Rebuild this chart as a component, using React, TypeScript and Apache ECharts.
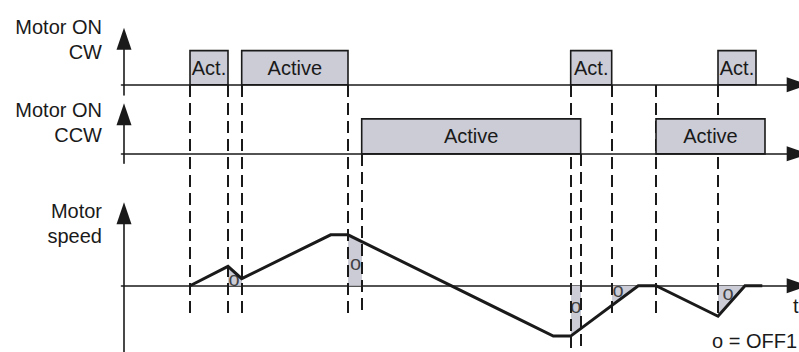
import React, { useEffect, useRef } from 'react';
import * as echarts from 'echarts';

// ---- data (time in arbitrary units, speed in % of max) ----
const trackTitles = ['Motor ON\nCW', 'Motor ON\nCCW', 'Motor\nspeed'];

const cwPulseStart = [66, 117.7, 446.7, 594];
const cwPulseEnd = [104, 224, 487.7, 632];
const cwPulseLabel = ['Act.', 'Active', 'Act.', 'Act.'];

const ccwPulseStart = [237.7, 532];
const ccwPulseEnd = [456.7, 641];
const ccwPulseLabel = ['Active', 'Active'];

const speedTime = [66, 104, 117.7, 206.7, 224, 429.3, 446.7, 514.3, 532, 594, 621, 638.3];
const speedValue = [0, 38, 14, 100, 100, -99, -99, 0, 0, -60, 0, 0];

const off1Start = [104, 224, 446.7, 487.7, 594];
const off1End = [117.7, 237.7, 456.7, 514.3, 621];
const off1MarkTime = [110, 231.5, 451.7, 494, 604];
const off1MarkValue = [13, 45, -39, -9, -14];
const off1Symbol = 'o';

const guideTime = [66, 104, 117.7, 224, 237.7, 446.7, 456.7, 487.7, 532, 594];
const guideFrom = ['cw', 'cw', 'cw', 'cw', 'ccw', 'cw', 'ccw', 'cw', 'cw', 'cw'];
const guideTo = ['mid', 'mid', 'mid', 'mid', 'mid', 'low', 'low', 'mid', 'mid', 'speed'];

const timeAxisName = 't';
const legendText = 'o = OFF1';

// ---- layout / style ----
const INK = '#1a1a1a';
const FILL = '#cbccd6';
const FONT_FAMILY = '"Liberation Sans", Arial, Helvetica, sans-serif';
const FONT = `20px ${FONT_FAMILY}`;
const GRID_LEFT = 121.5;
const GRID_RIGHT = 1.3;
const X_MIN = -2.5;
const X_MAX = 673.7;
const guideLevel: Record<string, number> = { cw: 85, ccw: 154, mid: 315, low: 348, speed: 318 };
const titleTop = [14.6, 97.6, 198.6];

const axisLineStyle = { color: INK, width: 1.6 };

function xAxisFor(gridIndex: number, show = true) {
  return {
    type: 'value',
    gridIndex,
    min: X_MIN,
    max: X_MAX,
    show,
    axisLine: {
      show: true,
      onZero: true,
      symbol: ['none', 'triangle'],
      symbolSize: [15, 22],
      lineStyle: axisLineStyle,
    },
    axisTick: { show: false },
    axisLabel: { show: false },
    splitLine: { show: false },
  };
}

function yAxisFor(gridIndex: number, min: number, max: number) {
  return {
    type: 'value',
    gridIndex,
    min,
    max,
    axisLine: {
      show: true,
      onZero: true,
      symbol: ['none', 'triangle'],
      symbolSize: [15, 22],
      lineStyle: axisLineStyle,
    },
    axisTick: { show: false },
    axisLabel: { show: false },
    splitLine: { show: false },
  };
}

function pulseSeries(axisIndex: number, starts: number[], ends: number[], labels: string[]) {
  return {
    type: 'line',
    xAxisIndex: axisIndex,
    yAxisIndex: axisIndex,
    data: [[X_MIN, 0]],
    showSymbol: false,
    lineStyle: { width: 0 },
    silent: true,
    z: 8,
    markArea: {
      silent: true,
      z: 8,
      itemStyle: { color: FILL, borderColor: INK, borderWidth: 1.6 },
      label: {
        show: true,
        position: 'inside',
        color: INK,
        fontSize: 20,
        fontFamily: FONT_FAMILY,
      },
      data: starts.map((s, i) => [
        { name: labels[i], coord: [s, 0] },
        { coord: [ends[i], 1] },
      ]),
    },
  };
}

export default function App() {
  const ref = useRef<HTMLDivElement>(null);

  useEffect(() => {
    if (!ref.current) return;
    const chart = echarts.init(ref.current, undefined, { renderer: 'svg' });
    const speedData = speedTime.map((t, i) => [t, speedValue[i]]);

    const option: any = {
      animation: false,
      backgroundColor: '#ffffff',
      grid: [
        { left: GRID_LEFT, right: GRID_RIGHT, top: 38.7, height: 56.3 },
        { left: GRID_LEFT, right: GRID_RIGHT, top: 114.3, height: 49 },
        { left: GRID_LEFT, right: GRID_RIGHT, top: 213.3, height: 141.7 },
        { left: GRID_LEFT, right: GRID_RIGHT, top: 0, height: 352 },
      ],
      xAxis: [xAxisFor(0), xAxisFor(1), xAxisFor(2), xAxisFor(3, false)],
      yAxis: [
        yAxisFor(0, -0.3, 1.35),
        yAxisFor(1, -0.27, 1.13),
        yAxisFor(2, -130.2, 142.3),
        { type: 'value', gridIndex: 3, min: 0, max: 352, inverse: true, show: false },
      ],
      visualMap: [
        {
          type: 'piecewise',
          show: false,
          dimension: 0,
          seriesIndex: 2,
          pieces: off1Start.map((s, i) => ({ gte: s, lte: off1End[i], color: FILL })),
          outOfRange: { color: 'rgba(0,0,0,0)' },
        },
      ],
      series: [
        pulseSeries(0, cwPulseStart, cwPulseEnd, cwPulseLabel),
        pulseSeries(1, ccwPulseStart, ccwPulseEnd, ccwPulseLabel),
        {
          type: 'line',
          xAxisIndex: 2,
          yAxisIndex: 2,
          data: speedData,
          showSymbol: false,
          lineStyle: { width: 0 },
          areaStyle: { opacity: 1 },
          z: 1,
          silent: true,
        },
        {
          type: 'line',
          xAxisIndex: 2,
          yAxisIndex: 2,
          data: speedData,
          showSymbol: false,
          lineStyle: { color: INK, width: 3, join: 'miter' },
          z: 4,
          silent: true,
        },
        {
          type: 'scatter',
          xAxisIndex: 2,
          yAxisIndex: 2,
          data: off1MarkTime.map((t, i) => [t, off1MarkValue[i]]),
          symbolSize: 1,
          itemStyle: { color: 'rgba(0,0,0,0)' },
          label: {
            show: true,
            position: 'inside',
            formatter: off1Symbol,
            color: INK,
            fontSize: 20,
            fontFamily: FONT_FAMILY,
          },
          z: 5,
          silent: true,
        },
        {
          type: 'line',
          xAxisIndex: 3,
          yAxisIndex: 3,
          data: [[X_MIN, 0]],
          showSymbol: false,
          lineStyle: { width: 0 },
          z: 2,
          silent: true,
          markLine: {
            silent: true,
            symbol: ['none', 'none'],
            label: { show: false },
            lineStyle: { color: INK, width: 2, type: [12, 6] },
            data: guideTime.map((t, i) => [
              { coord: [t, guideLevel[guideFrom[i]]] },
              { coord: [t, guideLevel[guideTo[i]]] },
            ]),
          },
        },
      ],
      graphic: [
        ...trackTitles.map((txt, i) => ({
          type: 'text',
          x: 102,
          y: titleTop[i],
          silent: true,
          style: {
            text: txt,
            font: FONT,
            fill: INK,
            align: 'right',
            textAlign: 'right',
            verticalAlign: 'top',
            textVerticalAlign: 'top',
            lineHeight: 25,
          },
        })),
        {
          type: 'text',
          x: 793,
          y: 306,
          silent: true,
          style: {
            text: timeAxisName,
            font: FONT,
            fill: INK,
            verticalAlign: 'middle',
            textVerticalAlign: 'middle',
          },
        },
        {
          type: 'text',
          x: 712,
          y: 341,
          silent: true,
          style: {
            text: legendText,
            font: FONT,
            fill: INK,
            verticalAlign: 'middle',
            textVerticalAlign: 'middle',
          },
        },
      ],
    };

    chart.setOption(option);
    return () => chart.dispose();
  }, []);

  return (
    <div
      ref={ref}
      style={{ position: 'absolute', left: 0, top: 0, width: 799, height: 352, background: '#fff' }}
    />
  );
}
